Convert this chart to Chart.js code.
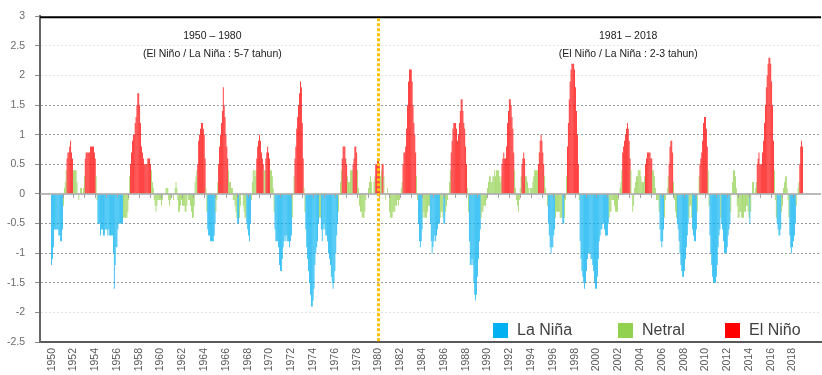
<!DOCTYPE html>
<html>
<head>
<meta charset="utf-8">
<title>Oceanic Niño Index 1950–2018</title>
<script src="https://cdn.jsdelivr.net/npm/chart.js@4.4.1/dist/chart.umd.min.js"></script>
<style>
  html, body { margin: 0; padding: 0; background: #ffffff; }
  #wrap { width: 822px; height: 375px; }
</style>
</head>
<body>
<div id="wrap"><canvas id="oni" width="822" height="375"></canvas></div>
<script>
// Monthly Oceanic Niño Index (3-month running mean), one row per year, Jan..Dec.
const oni1950s = [
  -1.2,-1.1,-0.9,-0.6,-0.6,-0.6,-0.6,-0.6,-0.7,-0.7,-0.8,-0.8, // 1950
  -0.6,-0.2, 0.1, 0.2, 0.4, 0.6, 0.7, 0.7, 0.8, 0.9, 0.7, 0.6, // 1951
   0.4, 0.4, 0.4, 0.4, 0.2, 0.0,-0.1, 0.0, 0.1, 0.1, 0.0, 0.1, // 1952
   0.3, 0.6, 0.7, 0.7, 0.7, 0.7, 0.7, 0.8, 0.8, 0.8, 0.8, 0.7, // 1953
   0.6, 0.3,-0.1,-0.5,-0.5,-0.5,-0.7,-0.6,-0.6,-0.7,-0.7,-0.6, // 1954
  -0.6,-0.6,-0.7,-0.6,-0.7,-0.7,-0.7,-0.7,-1.0,-1.6,-1.2,-0.9, // 1955
  -0.9,-0.6,-0.5,-0.5,-0.5,-0.5,-0.5,-0.4,-0.4,-0.4,-0.4,-0.4, // 1956
  -0.3,-0.1, 0.3, 0.5, 0.7, 0.9, 1.0, 1.0, 1.2, 1.3, 1.5, 1.7, // 1957
   1.7, 1.5, 1.2, 0.8, 0.7, 0.6, 0.5, 0.5, 0.5, 0.5, 0.6, 0.6, // 1958
   0.6, 0.5, 0.4, 0.2, 0.1,-0.1,-0.2,-0.3,-0.2,-0.1,-0.1,-0.1  // 1959
];
const oni1960s = [
  -0.1,-0.2,-0.1, 0.0, 0.0, 0.0, 0.1, 0.1, 0.1,-0.1,-0.2,-0.1, // 1960
   0.0, 0.0,-0.1, 0.0, 0.1, 0.2, 0.1,-0.1,-0.3,-0.3,-0.2,-0.1, // 1961
  -0.2,-0.2,-0.2,-0.3,-0.3,-0.2, 0.0,-0.1,-0.1,-0.2,-0.3,-0.4, // 1962
  -0.4,-0.2, 0.2, 0.3, 0.4, 0.5, 0.9, 1.0, 1.1, 1.2, 1.2, 1.1, // 1963
   1.0, 0.6, 0.1,-0.3,-0.6,-0.7,-0.7,-0.8,-0.8,-0.8,-0.8,-0.7, // 1964
  -0.5,-0.3,-0.1, 0.2, 0.5, 0.8, 1.0, 1.2, 1.4, 1.8, 1.5, 1.3, // 1965
   1.0, 0.8, 0.6, 0.4, 0.2, 0.2, 0.1, 0.1,-0.1,-0.1,-0.2,-0.3, // 1966
  -0.4,-0.5,-0.5,-0.4,-0.2, 0.0, 0.0,-0.2,-0.3,-0.4,-0.4,-0.5, // 1967
  -0.6,-0.7,-0.8,-0.5,-0.1, 0.2, 0.4, 0.4, 0.3, 0.4, 0.6, 0.8, // 1968
   0.9, 1.0, 0.9, 0.7, 0.6, 0.5, 0.4, 0.4, 0.6, 0.7, 0.8, 0.7  // 1969
];
const oni1970s = [
   0.6, 0.4, 0.4, 0.3, 0.1,-0.3,-0.6,-0.8,-0.8,-0.8,-0.9,-1.2, // 1970
  -1.3,-1.3,-1.1,-0.9,-0.8,-0.7,-0.8,-0.7,-0.8,-0.8,-0.9,-0.8, // 1971
  -0.7,-0.4, 0.0, 0.3, 0.6, 0.8, 1.1, 1.3, 1.5, 1.7, 1.9, 1.8, // 1972
   1.2, 0.6, 0.1,-0.3,-0.6,-0.9,-1.1,-1.3,-1.5,-1.7,-1.9,-1.9, // 1973
  -1.8,-1.6,-1.2,-1.0,-0.9,-0.8,-0.5,-0.4,-0.4,-0.6,-0.8,-0.6, // 1974
  -0.5,-0.6,-0.7,-0.7,-0.8,-1.0,-1.1,-1.2,-1.4,-1.5,-1.6,-1.5, // 1975
  -1.3,-1.0,-0.7,-0.5,-0.3, 0.0, 0.2, 0.4, 0.6, 0.8, 0.8, 0.8, // 1976
   0.6, 0.5, 0.3, 0.2, 0.2, 0.4, 0.4, 0.4, 0.5, 0.6, 0.8, 0.8, // 1977
   0.7, 0.4, 0.1,-0.2,-0.3,-0.3,-0.4,-0.4,-0.4,-0.3,-0.1, 0.0, // 1978
   0.0, 0.1, 0.2, 0.3, 0.2, 0.0, 0.0, 0.2, 0.3, 0.5, 0.5, 0.6  // 1979
];
const oni1980s = [
   0.6, 0.5, 0.3, 0.4, 0.5, 0.5, 0.3, 0.0,-0.1, 0.0, 0.1, 0.0, // 1980
  -0.3,-0.4,-0.4,-0.4,-0.3,-0.3,-0.3,-0.2,-0.2,-0.1,-0.2,-0.1, // 1981
   0.0, 0.1, 0.2, 0.5, 0.7, 0.7, 0.8, 1.1, 1.5, 1.9, 2.1, 2.1, // 1982
   2.1, 1.9, 1.5, 1.2, 1.0, 0.7, 0.3,-0.1,-0.5,-0.8,-0.9,-0.8, // 1983
  -0.6,-0.4,-0.3,-0.4,-0.4,-0.4,-0.3,-0.2,-0.2,-0.5,-0.8,-1.0, // 1984
  -0.9,-0.8,-0.7,-0.8,-0.7,-0.6,-0.5,-0.5,-0.4,-0.3,-0.3,-0.4, // 1985
  -0.5,-0.5,-0.3,-0.2,-0.1, 0.0, 0.2, 0.4, 0.7, 0.9, 1.1, 1.2, // 1986
   1.2, 1.2, 1.1, 0.9, 1.0, 1.2, 1.4, 1.6, 1.6, 1.4, 1.2, 1.1, // 1987
   0.8, 0.5, 0.1,-0.3,-0.8,-1.2,-1.2,-1.1,-1.2,-1.5,-1.7,-1.8, // 1988
  -1.7,-1.4,-1.1,-0.8,-0.6,-0.4,-0.3,-0.3,-0.2,-0.2,-0.2,-0.1  // 1989
];
const oni1990s = [
   0.1, 0.2, 0.3, 0.3, 0.2, 0.2, 0.3, 0.3, 0.4, 0.3, 0.4, 0.4, // 1990
   0.4, 0.3, 0.2, 0.3, 0.5, 0.6, 0.7, 0.6, 0.6, 0.8, 1.2, 1.4, // 1991
   1.6, 1.6, 1.5, 1.3, 1.1, 0.7, 0.4, 0.1,-0.1,-0.2,-0.3,-0.1, // 1992
   0.1, 0.3, 0.5, 0.6, 0.7, 0.6, 0.3, 0.3, 0.2, 0.1, 0.0, 0.1, // 1993
   0.1, 0.1, 0.2, 0.3, 0.4, 0.4, 0.4, 0.4, 0.5, 0.7, 0.9, 1.0, // 1994
   0.9, 0.7, 0.5, 0.3, 0.1, 0.0,-0.2,-0.5,-0.7,-0.9,-1.0,-0.9, // 1995
  -0.9,-0.7,-0.6,-0.4,-0.3,-0.3,-0.3,-0.3,-0.4,-0.4,-0.4,-0.5, // 1996
  -0.5,-0.4,-0.1, 0.3, 0.8, 1.2, 1.6, 1.9, 2.1, 2.2, 2.2, 2.2, // 1997
   2.1, 1.8, 1.4, 1.0, 0.5,-0.1,-0.8,-1.1,-1.3,-1.4,-1.5,-1.6, // 1998
  -1.5,-1.3,-1.1,-1.0,-1.0,-1.0,-1.1,-1.1,-1.2,-1.3,-1.5,-1.6  // 1999
];
const oni2000s = [
  -1.6,-1.4,-1.1,-0.8,-0.7,-0.6,-0.6,-0.5,-0.5,-0.6,-0.7,-0.7, // 2000
  -0.7,-0.5,-0.4,-0.3,-0.3,-0.1,-0.1,-0.1,-0.2,-0.3,-0.3,-0.3, // 2001
  -0.1, 0.0, 0.1, 0.2, 0.4, 0.7, 0.8, 0.9, 1.0, 1.1, 1.2, 1.1, // 2002
   0.9, 0.6, 0.4, 0.0,-0.3,-0.2, 0.1, 0.2, 0.3, 0.3, 0.4, 0.4, // 2003
   0.4, 0.3, 0.2, 0.2, 0.2, 0.3, 0.5, 0.6, 0.7, 0.7, 0.7, 0.7, // 2004
   0.6, 0.6, 0.4, 0.4, 0.3, 0.1,-0.1,-0.1,-0.1,-0.3,-0.6,-0.8, // 2005
  -0.9,-0.8,-0.6,-0.4,-0.1, 0.0, 0.1, 0.3, 0.5, 0.8, 0.9, 0.9, // 2006
   0.7, 0.2,-0.1,-0.3,-0.4,-0.5,-0.6,-0.8,-1.0,-1.2,-1.3,-1.4, // 2007
  -1.4,-1.3,-1.1,-0.9,-0.7,-0.5,-0.4,-0.2,-0.2,-0.4,-0.6,-0.7, // 2008
  -0.8,-0.8,-0.6,-0.3, 0.0, 0.3, 0.5, 0.6, 0.7, 0.9, 1.2, 1.3  // 2009
];
const oni2010s = [
   1.3, 1.1, 0.8, 0.4,-0.2,-0.7,-1.0,-1.2,-1.4,-1.5,-1.5,-1.5, // 2010
  -1.4,-1.2,-0.9,-0.7,-0.6,-0.4,-0.5,-0.6,-0.8,-1.0,-1.0,-1.0, // 2011
  -0.9,-0.7,-0.6,-0.5,-0.3, 0.0, 0.2, 0.4, 0.4, 0.3, 0.1,-0.2, // 2012
  -0.4,-0.4,-0.3,-0.3,-0.4,-0.4,-0.4,-0.3,-0.3,-0.2,-0.2,-0.3, // 2013
  -0.4,-0.5,-0.3, 0.0, 0.2, 0.2, 0.0, 0.1, 0.2, 0.5, 0.6, 0.7, // 2014
   0.5, 0.5, 0.5, 0.7, 0.9, 1.2, 1.5, 1.8, 2.0, 2.2, 2.3, 2.3, // 2015
   2.2, 1.9, 1.5, 0.9, 0.4,-0.1,-0.4,-0.5,-0.6,-0.7,-0.7,-0.6, // 2016
  -0.3,-0.2, 0.1, 0.2, 0.3, 0.3, 0.1,-0.1,-0.4,-0.7,-0.9,-1.0, // 2017
  -0.9,-0.8,-0.7,-0.5,-0.2, 0.0, 0.1, 0.2, 0.5, 0.8, 0.9, 0.8  // 2018
];

const startYear = 1950;
const splitYear = 1980;
const tickYears = [1950, 1952, 1954, 1956, 1958, 1960, 1962, 1964, 1966, 1968,
                   1970, 1972, 1974, 1976, 1978, 1980, 1982, 1984, 1986, 1988,
                   1990, 1992, 1994, 1996, 1998, 2000, 2002, 2004, 2006, 2008,
                   2010, 2012, 2014, 2016, 2018];
const phaseNames = ['La Niña', 'Netral', 'El Niño'];
const phaseColors = ['#00b0f0', '#92d050', '#ff0000'];
const periodTitles = ['1950 – 1980', '1981 – 2018'];
const periodNotes = ['(El Niño / La Niña : 5-7 tahun)', '(El Niño / La Niña : 2-3 tahun)'];

const oni = [].concat(oni1950s, oni1960s, oni1970s, oni1980s, oni1990s, oni2000s, oni2010s);
const points = oni.map((v, i) => ({ x: i, y: v }));

// ONI >= 0.5 is El Niño, <= -0.5 is La Niña, otherwise neutral
function phaseColor(v) {
  if (v == null) return phaseColors[1];
  if (v >= 0.5) return phaseColors[2];
  if (v <= -0.5) return phaseColors[0];
  return phaseColors[1];
}

const FONT = 'Liberation Sans, Arial, Helvetica, sans-serif';

const decorations = {
  id: 'decorations',
  afterDatasetsDraw(chart) {
    const { ctx, chartArea: a, scales: { x, y } } = chart;
    ctx.save();
    // zero line with yearly tick marks
    const y0 = y.getPixelForValue(0);
    ctx.strokeStyle = '#a3a3a3';
    ctx.lineWidth = 1.5;
    ctx.beginPath();
    ctx.moveTo(a.left, y0);
    ctx.lineTo(a.right, y0);
    ctx.stroke();
    ctx.lineWidth = 1;
    ctx.beginPath();
    for (let m = 12; m < oni.length; m += 12) {
      const px = Math.round(x.getPixelForValue(m)) + 0.5;
      ctx.moveTo(px, y0);
      ctx.lineTo(px, y0 + 4);
    }
    ctx.stroke();
    // top frame line
    ctx.strokeStyle = '#000000';
    ctx.lineWidth = 2;
    ctx.beginPath();
    ctx.moveTo(a.left, a.top + 1);
    ctx.lineTo(a.right, a.top + 1);
    ctx.stroke();
    // divider between the two periods
    const xs = x.getPixelForValue((splitYear - startYear) * 12);
    ctx.strokeStyle = '#ffc000';
    ctx.lineWidth = 3;
    ctx.setLineDash([3, 2]);
    ctx.beginPath();
    ctx.moveTo(xs, a.top + 2);
    ctx.lineTo(xs, a.bottom);
    ctx.stroke();
    ctx.restore();
  },
  afterDraw(chart) {
    const { ctx, chartArea: a, scales: { x } } = chart;
    ctx.save();
    // period captions
    ctx.fillStyle = '#1a1a1a';
    ctx.textAlign = 'center';
    ctx.textBaseline = 'middle';
    ctx.font = '10.5px ' + FONT;
    const anchors = [x.getPixelForValue(177), x.getPixelForValue(635)];
    anchors.forEach((cx, i) => {
      ctx.fillText(periodTitles[i], cx, a.top + 20);
      ctx.fillText(periodNotes[i], cx, a.top + 38);
    });
    // legend
    const offsets = [328, 203, 96];
    ctx.textAlign = 'left';
    ctx.font = '16px ' + FONT;
    const top = a.bottom - 19;
    phaseNames.forEach((name, i) => {
      const sx = a.right - offsets[i];
      ctx.fillStyle = phaseColors[i];
      ctx.fillRect(sx, top, 15, 15);
      ctx.fillStyle = '#404040';
      ctx.fillText(name, sx + 24, top + 8);
    });
    ctx.restore();
  }
};

const faint = [2.5, 2, -2];
new Chart(document.getElementById('oni'), {
  type: 'bar',
  data: {
    datasets: [{
      label: 'ONI',
      data: points,
      backgroundColor: c => phaseColor(c.raw ? c.raw.y : null),
      borderWidth: 0,
      inflateAmount: 0,
      barPercentage: 0.8,
      categoryPercentage: 1
    }]
  },
  options: {
    responsive: false,
    animation: false,
    devicePixelRatio: 1,
    layout: { padding: { top: 10, right: 1, left: 0, bottom: 0 } },
    plugins: { legend: { display: false }, tooltip: { enabled: false } },
    scales: {
      x: {
        type: 'linear',
        min: -0.5,
        max: 835,
        afterBuildTicks: axis => {
          axis.ticks = tickYears.map(yr => ({ value: (yr - startYear) * 12 }));
        },
        afterFit: axis => { axis.height = 33; },
        grid: { display: false, drawTicks: false },
        border: { display: true, color: '#595959', width: 2 },
        ticks: {
          autoSkip: false,
          minRotation: 90,
          maxRotation: 90,
          padding: 6,
          color: '#595959',
          font: { family: FONT, size: 10.5 },
          callback: v => String(startYear + Math.round(v / 12))
        }
      },
      y: {
        min: -2.5,
        max: 3,
        afterFit: axis => { axis.width = 40; },
        ticks: {
          stepSize: 0.5,
          padding: 10,
          color: '#6b6b6b',
          font: { family: FONT, size: 10.5 },
          callback: v => String(Number(v.toFixed(1)))
        },
        grid: {
          lineWidth: 1,
          tickLength: 5,
          tickColor: '#8c8c8c',
          color: c => {
            const v = Math.round(c.tick.value * 10) / 10;
            if (v === 3 || v === 0 || v === -2.5) return 'rgba(0,0,0,0)';
            if (faint.includes(v)) return '#e4e4e4';
            return '#9a9a9a';
          }
        },
        border: { display: true, color: '#666666', width: 2, dash: [2, 2] }
      }
    }
  },
  plugins: [decorations]
});
</script>
</body>
</html>
